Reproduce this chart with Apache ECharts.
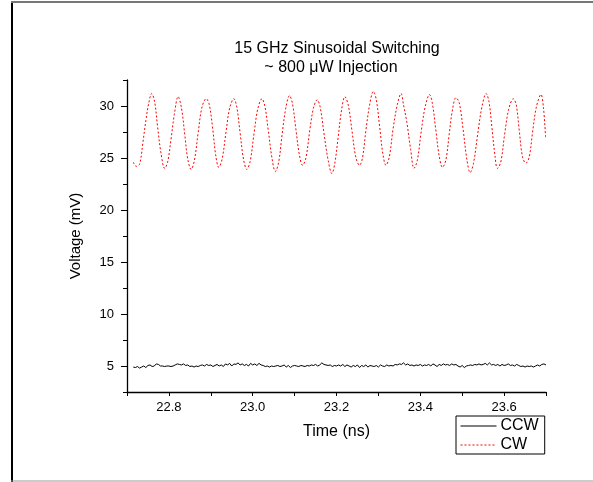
<!DOCTYPE html>
<html>
<head>
<meta charset="utf-8">
<script src="https://cdn.jsdelivr.net/npm/echarts@6/dist/echarts.min.js"></script>
<style>html,body{margin:0;padding:0;background:#fff}#c{width:593px;height:482px}</style>
</head>
<body>
<div id="c"></div>
<script>
var titleLines = ['15 GHz Sinusoidal Switching', '~ 800 \u03bcW Injection'];
var xLabelValues = [22.8, 23.0, 23.2, 23.4, 23.6];
var xTickValues = [22.7, 22.8, 22.9, 23.0, 23.1, 23.2, 23.3, 23.4, 23.5, 23.6, 23.7];
var yLabelValues = [5, 10, 15, 20, 25, 30];
var yMinorTickValues = [2.5, 7.5, 12.5, 17.5, 22.5, 27.5, 32.5];

var cwTime = [
22.715,22.722,22.730,22.738,22.745,22.752,22.759,22.766,22.773,22.781,
22.790,22.797,22.805,22.813,22.822,22.830,22.838,22.845,22.853,22.861,
22.870,22.879,22.889,22.896,22.904,22.912,22.919,22.927,22.936,22.945,
22.955,22.962,22.970,22.978,22.986,22.994,23.003,23.012,23.022,23.029,
23.037,23.046,23.054,23.062,23.070,23.079,23.088,23.095,23.103,23.111,
23.119,23.127,23.136,23.145,23.154,23.161,23.170,23.180,23.189,23.196,
23.204,23.212,23.220,23.228,23.237,23.246,23.255,23.262,23.270,23.279,
23.288,23.295,23.303,23.311,23.318,23.326,23.335,23.345,23.354,23.360,
23.368,23.377,23.385,23.393,23.402,23.412,23.422,23.429,23.437,23.445,
23.453,23.461,23.469,23.477,23.485,23.493,23.502,23.511,23.519,23.527,
23.537,23.547,23.557,23.564,23.571,23.578,23.584,23.592,23.601,23.611,
23.622,23.629,23.636,23.644,23.652,23.660,23.668,23.677,23.688,23.694,
23.699];
var cwVolt = [
24.6,24.2,24.4,26.5,28.6,30.3,31.2,30.4,28.0,25.5,
24.0,24.6,26.8,29.2,30.9,29.8,27.2,24.9,23.9,24.8,
27.5,29.9,30.7,30.2,28.0,25.2,24.1,24.9,27.4,29.8,
30.7,29.9,27.4,24.9,23.9,24.7,27.3,29.7,30.7,30.0,
27.7,25.0,23.7,24.6,27.2,29.8,31.0,30.2,27.8,25.4,
24.3,25.0,27.6,29.8,30.6,29.9,27.4,24.8,23.5,24.5,
27.0,29.6,30.9,30.1,27.6,25.1,24.3,25.0,27.6,30.1,
31.4,30.6,28.0,25.3,24.3,25.1,27.8,30.1,31.2,30.1,
28.4,25.8,24.0,24.8,27.5,30.0,31.1,30.2,27.7,25.2,
24.1,24.8,27.3,29.7,30.8,30.3,27.8,24.9,23.6,24.5,
27.3,29.9,31.2,30.4,27.9,25.3,24.0,24.6,27.2,29.7,
30.7,30.1,27.7,25.1,24.5,25.1,27.5,29.9,31.1,29.8,
27.0];

var ccwTime = [
22.715,22.720,22.725,22.730,22.735,22.740,22.745,22.750,22.755,22.760,
22.765,22.770,22.775,22.780,22.785,22.790,22.795,22.800,22.805,22.810,
22.815,22.820,22.825,22.830,22.835,22.840,22.845,22.850,22.855,22.860,
22.865,22.870,22.875,22.880,22.885,22.890,22.895,22.900,22.905,22.910,
22.915,22.920,22.925,22.930,22.935,22.940,22.945,22.950,22.955,22.960,
22.965,22.970,22.975,22.980,22.985,22.990,22.995,23.000,23.005,23.010,
23.015,23.020,23.025,23.030,23.035,23.040,23.045,23.050,23.055,23.060,
23.065,23.070,23.075,23.080,23.085,23.090,23.095,23.100,23.105,23.110,
23.115,23.120,23.125,23.130,23.135,23.140,23.145,23.150,23.155,23.160,
23.165,23.170,23.175,23.180,23.185,23.190,23.195,23.200,23.205,23.210,
23.215,23.220,23.225,23.230,23.235,23.240,23.245,23.250,23.255,23.260,
23.265,23.270,23.275,23.280,23.285,23.290,23.295,23.300,23.305,23.310,
23.315,23.320,23.325,23.330,23.335,23.340,23.345,23.350,23.355,23.360,
23.365,23.370,23.375,23.380,23.385,23.390,23.395,23.400,23.405,23.410,
23.415,23.420,23.425,23.430,23.435,23.440,23.445,23.450,23.455,23.460,
23.465,23.470,23.475,23.480,23.485,23.490,23.495,23.500,23.505,23.510,
23.515,23.520,23.525,23.530,23.535,23.540,23.545,23.550,23.555,23.560,
23.565,23.570,23.575,23.580,23.585,23.590,23.595,23.600,23.605,23.610,
23.615,23.620,23.625,23.630,23.635,23.640,23.645,23.650,23.655,23.660,
23.665,23.670,23.675,23.680,23.685,23.690,23.695,23.700];
var ccwVolt = [
4.90,4.85,4.95,4.80,4.90,5.00,4.85,5.05,5.10,4.95,
5.00,5.20,5.15,5.00,5.00,4.95,5.00,5.00,4.95,5.00,
5.10,5.20,5.15,5.10,5.20,5.05,5.10,4.95,5.00,4.90,
5.00,4.95,5.05,5.10,5.00,5.15,5.05,5.10,4.95,5.05,
5.15,5.00,5.10,4.95,5.20,5.10,5.25,5.00,5.20,5.15,
5.30,5.10,5.20,5.05,5.15,5.00,5.25,5.10,5.20,5.05,
5.25,5.10,5.05,4.95,5.00,4.90,5.00,4.95,5.00,5.05,
4.95,5.00,5.10,4.90,5.05,4.85,5.00,5.05,5.00,4.95,
5.05,5.00,4.95,5.05,5.00,5.10,5.05,5.15,5.00,5.10,
5.30,5.15,5.10,5.05,5.10,4.95,5.05,5.00,5.10,5.00,
5.15,4.95,5.10,5.00,4.90,5.05,4.95,5.10,4.85,5.05,
4.95,5.10,4.90,5.05,5.00,4.95,5.05,4.90,5.10,5.00,
4.95,5.10,5.00,5.05,5.00,5.15,5.10,5.20,5.15,5.30,
5.10,5.20,5.05,5.10,5.00,5.10,5.05,5.15,5.00,5.10,
5.05,5.15,5.00,5.20,5.10,4.95,5.15,5.05,5.20,5.10,
5.15,5.05,5.20,5.10,5.15,5.00,4.90,5.05,4.85,5.00,
5.05,5.10,5.05,5.15,5.10,5.20,5.10,5.15,5.25,5.10,
5.30,5.10,5.15,5.05,5.15,5.00,5.15,5.05,5.10,5.20,
5.05,5.10,5.00,5.15,5.05,4.95,5.00,4.90,5.00,4.95,
5.00,4.90,5.00,5.10,5.00,5.15,5.20,5.10];

function zip(a, b) {
  var out = [];
  for (var i = 0; i < Math.min(a.length, b.length); i++) out.push([a[i], b[i]]);
  return out;
}

var FONT = 'Arial, "Liberation Sans", sans-serif';
var chart = echarts.init(document.getElementById('c'), null, {renderer: 'canvas'});
chart.setOption({
  animation: false,
  backgroundColor: '#fff',
  title: [
    {text: titleLines[0], left: 337, top: 41, textAlign: 'center', padding: 0,
     textStyle: {fontFamily: FONT, fontSize: 16, fontWeight: 'normal', color: '#000'}},
    {text: titleLines[1], left: 331, top: 60, textAlign: 'center', padding: 0,
     textStyle: {fontFamily: FONT, fontSize: 16, fontWeight: 'normal', color: '#000'}}
  ],
  graphic: [
    {type: 'line', shape: {x1: 12, y1: 2, x2: 12, y2: 482}, style: {stroke: '#000', lineWidth: 2}, silent: true},
    {type: 'line', shape: {x1: 11, y1: 2, x2: 593, y2: 2}, style: {stroke: '#777', lineWidth: 2}, silent: true},
    {type: 'line', shape: {x1: 11, y1: 481, x2: 593, y2: 481}, style: {stroke: '#999', lineWidth: 1}, silent: true}
  ],
  legend: {
    orient: 'vertical',
    left: 456, top: 416,
    padding: [2, 6, 1, 4],
    itemWidth: 36, itemHeight: 15, itemGap: 3,
    backgroundColor: '#fff',
    borderColor: '#000', borderWidth: 1, borderRadius: 0,
    itemStyle: {color: 'rgba(0,0,0,0)', borderWidth: 0, opacity: 0},
    lineStyle: {width: 1},
    textStyle: {fontFamily: FONT, fontSize: 16, color: '#000', padding: [0, 0, 0, -1]},
    data: ['CCW', 'CW']
  },
  grid: {left: 127, right: 47, top: 80, bottom: 90, containLabel: false},
  xAxis: {
    type: 'value', min: 22.7, max: 23.7,
    name: 'Time (ns)', nameLocation: 'middle', nameGap: 32,
    nameTextStyle: {fontFamily: FONT, fontSize: 16, color: '#000'},
    axisLine: {show: true, onZero: false, lineStyle: {color: '#000', width: 1.3}},
    axisTick: {show: true, length: 4, customValues: xTickValues, lineStyle: {color: '#000'}},
    axisLabel: {customValues: xLabelValues, margin: 9, fontFamily: FONT, fontSize: 13, color: '#000',
      formatter: function (v) { return v.toFixed(1); }},
    splitLine: {show: false}
  },
  yAxis: [
    {
      type: 'value', min: 2.5, max: 32.5,
      name: 'Voltage (mV)', nameLocation: 'middle', nameGap: 44,
      nameTextStyle: {fontFamily: FONT, fontSize: 15, color: '#000'},
      axisLine: {show: true, onZero: false, lineStyle: {color: '#000', width: 1.3}},
      axisTick: {show: true, length: 6, customValues: yLabelValues, lineStyle: {color: '#000'}},
      axisLabel: {customValues: yLabelValues, margin: 13, fontFamily: FONT, fontSize: 13, color: '#000'},
      splitLine: {show: false}
    },
    {
      type: 'value', min: 2.5, max: 32.5, position: 'left',
      axisLine: {show: false},
      axisTick: {show: true, length: 4, customValues: yMinorTickValues, lineStyle: {color: '#000'}},
      axisLabel: {show: false},
      splitLine: {show: false}
    }
  ],
  series: [
    {
      name: 'CCW', type: 'line', data: zip(ccwTime, ccwVolt), yAxisIndex: 0,
      showSymbol: false, symbol: 'none',
      lineStyle: {color: '#000', width: 1},
      itemStyle: {color: '#000'}
    },
    {
      name: 'CW', type: 'line', data: zip(cwTime, cwVolt), yAxisIndex: 0,
      showSymbol: false, symbol: 'none', smooth: 0.35,
      lineStyle: {color: '#ff0000', width: 1, type: [2, 2]},
      itemStyle: {color: '#ff0000'}
    }
  ]
});
</script>
</body>
</html>
